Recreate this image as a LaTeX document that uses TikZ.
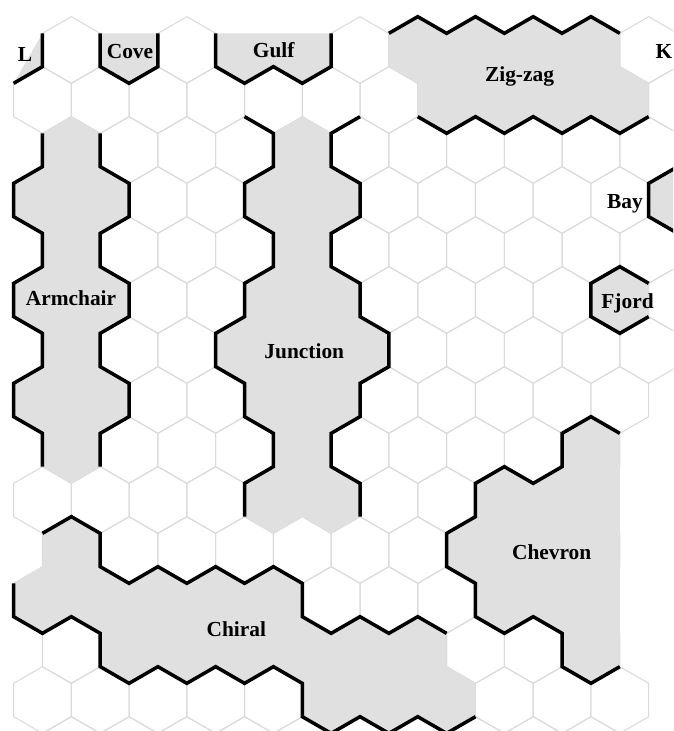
\documentclass[tikz,border=0pt]{standalone}
\usepackage{fontspec}
\setmainfont{Liberation Serif}
\definecolor{regiongray}{RGB}{224,224,224}
\definecolor{gridgray}{RGB}{218,218,218}
\tikzset{
  gridline/.style={draw=gridgray, line width=0.5pt},
  regfill/.style={fill=regiongray},
  edgeline/.style={draw=black, line width=1.75pt},
  lbl/.style={font=\bfseries\fontsize{10.7}{12}\selectfont, anchor=base, inner sep=0pt}
}
\newcommand\hexcell[2]{\draw[gridline] (#1,#2-2) -- (#1+1,#2-1) -- (#1+1,#2+1) -- (#1,#2+2) -- (#1-1,#2+1) -- (#1-1,#2-1) -- cycle;}
\newcommand\hexpath[2]{(#1,#2-2) -- (#1+1,#2-1) -- (#1+1,#2+1) -- (#1,#2+2) -- (#1-1,#2+1) -- (#1-1,#2-1) -- cycle}
\begin{document}
\begin{tikzpicture}
\useasboundingbox (0pt,0pt) rectangle (336.5pt,-365.5pt);
\clip (0pt,0pt) rectangle (336.5pt,-365.5pt);
\fill[white] (0pt,0pt) rectangle (336.5pt,-365.5pt);
\begin{scope}[shift={(6.8pt,0pt)}, x={(14.43376pt,0pt)}, y={(0pt,-8.33333pt)}]
% grid
\foreach \i in {2,6,12,14,16,18,20,22} {\hexcell{\i}{3}}
\foreach \j in {6,12,18} {\foreach \i in {1,3,...,23} {\hexcell{\i}{\j}}}
\foreach \j in {9,15,21} {\foreach \i in {2,4,...,22} {\hexcell{\i}{\j}}}
\foreach \i in {1,3,...,21} {\hexcell{\i}{24}}
\foreach \i in {2,4,...,20} {\hexcell{\i}{27}}
\foreach \i in {1,3,...,19} {\hexcell{\i}{30}}
\foreach \i in {2,4,...,20} {\hexcell{\i}{33}}
\foreach \i in {1,3,...,19} {\hexcell{\i}{36}}
\foreach \i in {2,4,...,20} {\hexcell{\i}{39}}
\foreach \i in {1,3,...,21} {\hexcell{\i}{42}}
\foreach \i in {2,4,...,20} {\hexcell{\i}{45}}
% fills
\fill[regfill] (1,2) -- (1,4) -- (0,5) -- cycle;
\fill[regfill] (3,2) -- (3,4) -- (4,5) -- (5,4) -- (5,2) -- cycle;
\fill[regfill] (7,2) -- (7,4) -- (8,5) -- (9,4) -- (10,5) -- (11,4) -- (11,2) -- cycle;
\fill[regfill] (13,2) -- (14,1) -- (15,2) -- (16,1) -- (17,2) -- (18,1) -- (19,2) -- (20,1) -- (21,2) -- (21,4) -- (22,5) -- (22,7) -- (21,8) -- (20,7) -- (19,8) -- (18,7) -- (17,8) -- (16,7) -- (15,8) -- (14,7) -- (14,5) -- (13,4) -- cycle;
\fill[regfill] \hexpath{23}{12};
\fill[regfill] \hexpath{21}{18};
\fill[regfill] (1,8) -- (2,7) -- (3,8) -- (3,10) -- (4,11) -- (4,13) -- (3,14) -- (3,16) -- (4,17) -- (4,19) -- (3,20) -- (3,22) -- (4,23) -- (4,25) -- (3,26) -- (3,28) -- (2,29) -- (1,28) -- (1,26) -- (0,25) -- (0,23) -- (1,22) -- (1,20) -- (0,19) -- (0,17) -- (1,16) -- (1,14) -- (0,13) -- (0,11) -- (1,10) -- cycle;
\fill[regfill] (9,8) -- (10,7) -- (11,8) -- (11,10) -- (12,11) -- (12,13) -- (11,14) -- (11,16) -- (12,17) -- (12,19) -- (13,20) -- (13,22) -- (12,23) -- (12,25) -- (11,26) -- (11,28) -- (12,29) -- (12,31) -- (11,32) -- (10,31) -- (9,32) -- (8,31) -- (8,29) -- (9,28) -- (9,26) -- (8,25) -- (8,23) -- (7,22) -- (7,20) -- (8,19) -- (8,17) -- (9,16) -- (9,14) -- (8,13) -- (8,11) -- (9,10) -- cycle;
\fill[regfill] (21,26) -- (20,25) -- (19,26) -- (19,28) -- (18,29) -- (17,28) -- (16,29) -- (16,31) -- (15,32) -- (15,34) -- (16,35) -- (16,37) -- (17,38) -- (18,37) -- (19,38) -- (19,40) -- (20,41) -- (21,40) -- cycle;
\fill[regfill] (1,32) -- (2,31) -- (3,32) -- (3,34) -- (4,35) -- (5,34) -- (6,35) -- (7,34) -- (8,35) -- (9,34) -- (10,35) -- (10,37) -- (11,38) -- (12,37) -- (13,38) -- (14,37) -- (15,38) -- (15,40) -- (16,41) -- (16,43) -- (15,44) -- (14,43) -- (13,44) -- (12,43) -- (11,44) -- (10,43) -- (10,41) -- (9,40) -- (8,41) -- (7,40) -- (6,41) -- (5,40) -- (4,41) -- (3,40) -- (3,38) -- (2,37) -- (1,38) -- (0,37) -- (0,35) -- (1,34) -- cycle;
% edges
\draw[edgeline] (1,2) -- (1,4) -- (0,5);
\draw[edgeline] (3,2) -- (3,4) -- (4,5) -- (5,4) -- (5,2);
\draw[edgeline] (7,2) -- (7,4) -- (8,5) -- (9,4) -- (10,5) -- (11,4) -- (11,2);
\draw[edgeline] (13,2) -- (14,1) -- (15,2) -- (16,1) -- (17,2) -- (18,1) -- (19,2) -- (20,1) -- (21,2);
\draw[edgeline] (22,7) -- (21,8) -- (20,7) -- (19,8) -- (18,7) -- (17,8) -- (16,7) -- (15,8) -- (14,7);
\draw[edgeline] \hexpath{23}{12};
\draw[edgeline] (22,17) -- (21,16) -- (20,17) -- (20,19) -- (21,20) -- (22,19);
\draw[edgeline] (1,8) -- (1,10) -- (0,11) -- (0,13) -- (1,14) -- (1,16) -- (0,17) -- (0,19) -- (1,20) -- (1,22) -- (0,23) -- (0,25) -- (1,26) -- (1,28);
\draw[edgeline] (3,8) -- (3,10) -- (4,11) -- (4,13) -- (3,14) -- (3,16) -- (4,17) -- (4,19) -- (3,20) -- (3,22) -- (4,23) -- (4,25) -- (3,26) -- (3,28);
\draw[edgeline] (8,7) -- (9,8) -- (9,10) -- (8,11) -- (8,13) -- (9,14) -- (9,16) -- (8,17) -- (8,19) -- (7,20) -- (7,22) -- (8,23) -- (8,25) -- (9,26) -- (9,28) -- (8,29) -- (8,31);
\draw[edgeline] (12,7) -- (11,8) -- (11,10) -- (12,11) -- (12,13) -- (11,14) -- (11,16) -- (12,17) -- (12,19) -- (13,20) -- (13,22) -- (12,23) -- (12,25) -- (11,26) -- (11,28) -- (12,29) -- (12,31);
\draw[edgeline] (21,26) -- (20,25) -- (19,26) -- (19,28) -- (18,29) -- (17,28) -- (16,29) -- (16,31) -- (15,32) -- (15,34) -- (16,35) -- (16,37) -- (17,38) -- (18,37) -- (19,38) -- (19,40) -- (20,41) -- (21,40);
\draw[edgeline] (1,32) -- (2,31) -- (3,32) -- (3,34) -- (4,35) -- (5,34) -- (6,35) -- (7,34) -- (8,35) -- (9,34) -- (10,35) -- (10,37) -- (11,38) -- (12,37) -- (13,38) -- (14,37) -- (15,38);
\draw[edgeline] (0,35) -- (0,37) -- (1,38) -- (2,37) -- (3,38) -- (3,40) -- (4,41) -- (5,40) -- (6,41) -- (7,40) -- (8,41) -- (9,40) -- (10,41) -- (10,43) -- (11,44) -- (12,43) -- (13,44) -- (14,43) -- (15,44) -- (16,43);
\end{scope}
% labels
\node[lbl] (labL) at (12.5pt,-30.85pt) {L};
\node[lbl] (labCove) at (65pt,-29.15pt) {Cove};
\node[lbl] (labGulf) at (136.85pt,-28.85pt) {Gulf};
\node[lbl] (labZig) at (259.75pt,-40.85pt) {Zig-zag};
\node[lbl] (labK) at (332pt,-29.15pt) {K};
\node[lbl] (labBay) at (312.5pt,-104.5pt) {Bay};
\node[lbl] (labFjord) at (313.75pt,-154.25pt) {Fjord};
\node[lbl] (labArm) at (35.5pt,-152.85pt) {Armchair};
\node[lbl] (labJunc) at (152.15pt,-179pt) {Junction};
\node[lbl] (labChev) at (275.85pt,-279.5pt) {Chevron};
\node[lbl] (labChiral) at (118.15pt,-318.35pt) {Chiral};
\end{tikzpicture}
\end{document}
